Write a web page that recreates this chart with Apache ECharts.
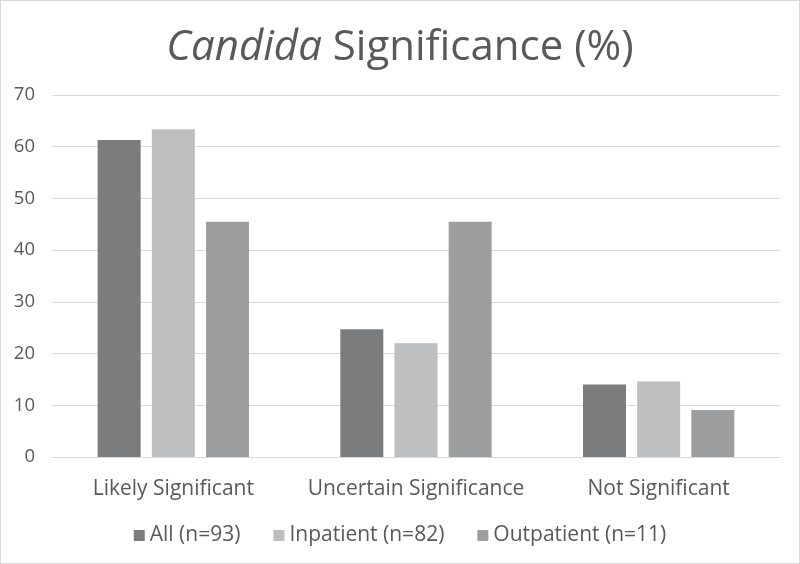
<!DOCTYPE html>
<html><head><meta charset="utf-8">
<script src="https://cdn.jsdelivr.net/npm/echarts@6/dist/echarts.min.js"></script>
<style>html,body{margin:0;padding:0;background:#fff}#c{width:800px;height:564px;box-sizing:border-box;border:1px solid #d9d9d9}</style>
</head><body><div id="c"></div>
<script>
const categories = ['Likely Significant', 'Uncertain Significance', 'Not Significant'];
const allData = [61.3, 24.7, 14.0];
const inpatientData = [63.4, 22.0, 14.6];
const outpatientData = [45.5, 45.5, 9.1];
const seriesNames = ['All (n=93)', 'Inpatient (n=82)', 'Outpatient (n=11)'];

const font = '"Open Sans", sans-serif';
const chart = echarts.init(document.getElementById('c'));
chart.setOption({
  animation: false,
  title: {
    text: '{i|Candida }{n|Significance (%)}',
    left: 'center', top: 21,
    textStyle: { fontWeight: 'normal', rich: {
      i: { fontFamily: font, fontStyle: 'italic', fontWeight: 'normal', fontSize: 42, color: '#595959' },
      n: { fontFamily: font, fontWeight: 'normal', fontSize: 42, color: '#595959' }
    } }
  },
  legend: {
    bottom: 12, left: 'center', itemWidth: 11, itemHeight: 11, itemGap: 33,
    icon: 'rect',
    textStyle: { fontFamily: font, fontSize: 21, color: '#595959' },
    data: seriesNames
  },
  grid: { left: 51, right: 19, top: 94, bottom: 106 },
  xAxis: {
    type: 'category', data: categories,
    axisLine: { lineStyle: { color: '#d9d9d9' } }, axisTick: { show: false },
    axisLabel: { fontFamily: font, fontSize: 21, color: '#595959', margin: 22, interval: 0 }
  },
  yAxis: {
    type: 'value', min: 0, max: 70, interval: 10,
    axisLine: { show: false }, axisTick: { show: false },
    splitLine: { lineStyle: { color: '#d9d9d9' } },
    axisLabel: { fontFamily: font, fontSize: 18.5, color: '#595959', margin: 17 }
  },
  series: [
    { name: seriesNames[0], type: 'bar', data: allData, itemStyle: { color: '#7b7c7e' }, barWidth: 43, barGap: '26%' },
    { name: seriesNames[1], type: 'bar', data: inpatientData, itemStyle: { color: '#bdbec0' }, barWidth: 43, barGap: '26%' },
    { name: seriesNames[2], type: 'bar', data: outpatientData, itemStyle: { color: '#9d9ea0' }, barWidth: 43, barGap: '26%' }
  ]
});
</script></body></html>
